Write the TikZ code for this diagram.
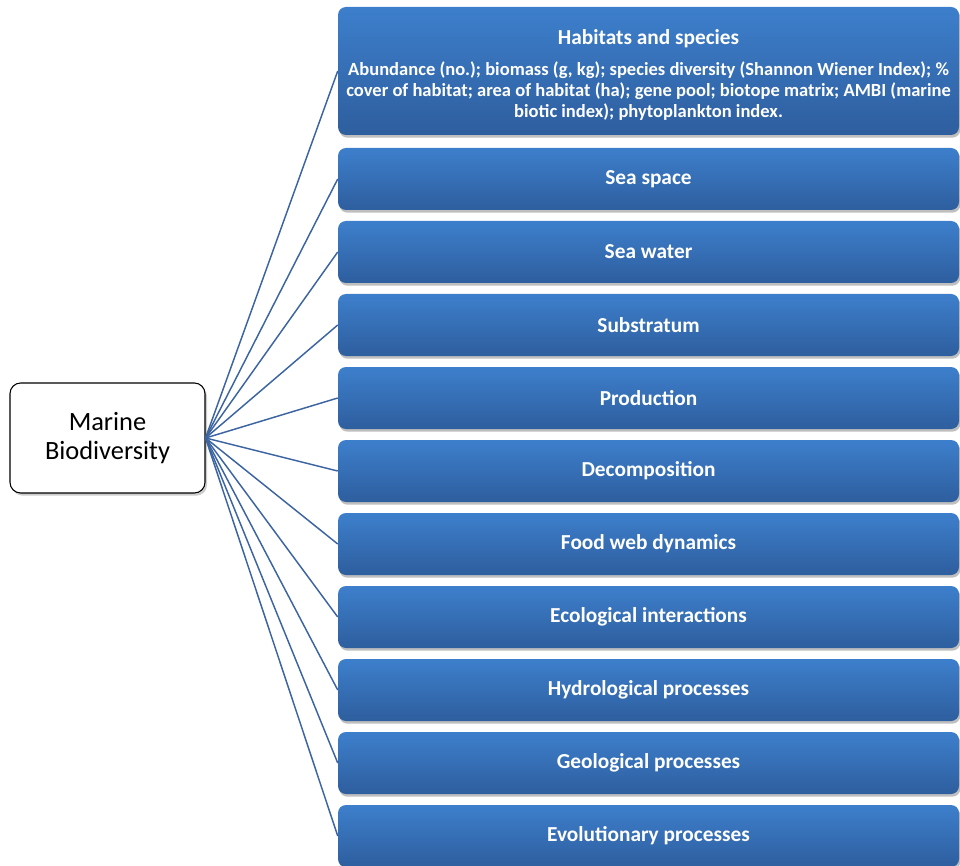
\documentclass[tikz,border=0pt]{standalone}
\usepackage{fontspec}
\setmainfont{Carlito}
\usepackage{xcolor}
\usetikzlibrary{shadows}

\definecolor{boxtop}{RGB}{61,127,204}
\definecolor{boxbot}{RGB}{46,94,158}
\definecolor{linkblue}{RGB}{59,100,160}

\tikzset{
  catbox/.style={rounded corners=6pt, top color=boxtop, bottom color=boxbot, text=white,
    font=\bfseries\fontsize{16}{19}\selectfont, minimum width=465.75pt, minimum height=46.5pt,
    inner sep=0pt, align=center,
    drop shadow={shadow xshift=1pt, shadow yshift=-2pt, opacity=0.25, fill=black}},
  hubbox/.style={draw=black, line width=0.8pt, rounded corners=8pt, fill=white,
    minimum width=146.25pt, minimum height=82.5pt, inner sep=0pt, align=center,
    font=\fontsize{19.8}{22}\selectfont,
    drop shadow={shadow xshift=1.5pt, shadow yshift=-2pt, opacity=0.2, fill=black}},
  link/.style={draw=linkblue, line width=1.1pt}
}

\begin{document}
\begin{tikzpicture}[x=0.75pt,y=0.75pt,yscale=-1,xscale=1]

\useasboundingbox (0,0) rectangle (960,866);

% centre node
\node [hubbox] (bio) at (107.5,438) {Marine\\Biodiversity};

% first box with indicators
\node [catbox, minimum height=96pt, font=\bfseries\fontsize{13.9}{15.75}\selectfont] (hab) at (648.5,71)
  {{\fontsize{16}{19}\selectfont\rule{0pt}{17pt}Habitats and species}\\[7pt]
  Abundance (no.); biomass (g, kg); species diversity (Shannon Wiener Index); \%\\
  cover of habitat; area of habitat (ha); gene pool; biotope matrix; AMBI (marine\\
  biotic index); phytoplankton index.};

\node [catbox] (sea) at (648.5,179) {Sea space};
\node [catbox] (wat) at (648.5,252) {Sea water};
\node [catbox] (sub) at (648.5,325) {Substratum};
\node [catbox] (pro) at (648.5,398) {Production};
\node [catbox] (dec) at (648.5,471) {Decomposition};
\node [catbox] (foo) at (648.5,544) {Food web dynamics};
\node [catbox] (eco) at (648.5,617) {Ecological interactions};
\node [catbox] (hyd) at (648.5,690) {Hydrological processes};
\node [catbox] (geo) at (648.5,763) {Geological processes};
\node [catbox] (evo) at (648.5,836) {Evolutionary processes};

% connectors
\foreach \t in {hab,sea,wat,sub,pro,dec,foo,eco,hyd,geo,evo}
  \draw [link] (bio.east) -- (\t.west);

\end{tikzpicture}
\end{document}
